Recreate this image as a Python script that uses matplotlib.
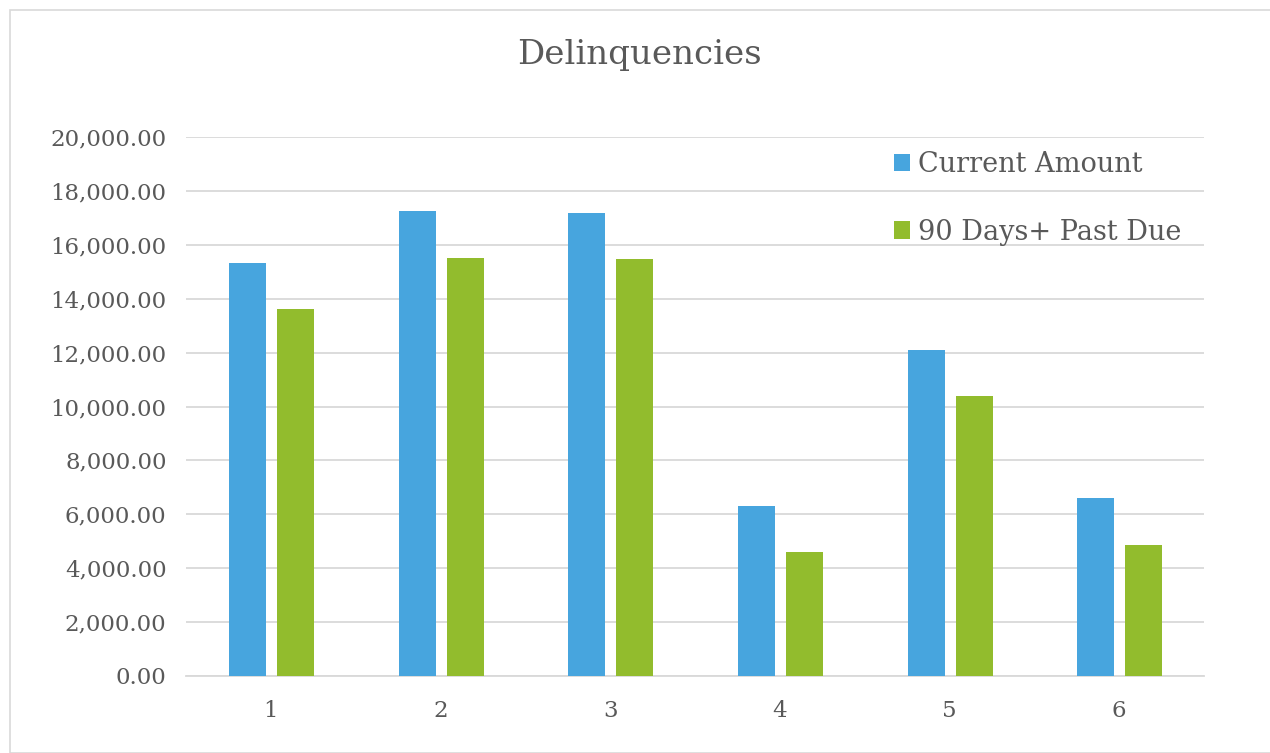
import numpy as np
import matplotlib as m
m.use('Agg')
import matplotlib.pyplot as plt
from matplotlib.patches import Rectangle
from matplotlib.ticker import FuncFormatter

categories = ['1', '2', '3', '4', '5', '6']
current_amount = [15330, 17250, 17180, 6320, 12100, 6600]
past_due_90 = [13600, 15520, 15470, 4600, 10390, 4860]
yticks = list(range(0, 20001, 2000))


def main():
  plt.rcParams['font.family'] = ['DejaVu Serif']
  txt = '#595959'
  grid = '#d9d9d9'
  blue = '#47a5de'
  green = '#92bc2d'

  fig = plt.figure(figsize=(12.7, 7.53), dpi=100)
  ax = fig.add_axes([186/1270, 1-676/753, (1204-186)/1270, (676-137)/753])

  x = np.arange(1, len(categories)+1)
  w = 0.218
  ax.bar(x-0.137, current_amount, w, color=blue, label='Current Amount', zorder=3)
  ax.bar(x+0.145, past_due_90, w, color=green, label='90 Days+ Past Due', zorder=3)

  ax.set_xlim(0.5, 6.5)
  ax.set_ylim(0, 20000)
  ax.set_yticks(yticks)
  ax.yaxis.set_major_formatter(FuncFormatter(lambda v, p: '{:,.2f}'.format(v)))
  ax.set_xticks(x)
  ax.set_xticklabels(categories)
  ax.tick_params(axis='both', length=0, labelsize=16.5, colors=txt)
  ax.tick_params(axis='y', pad=14)
  ax.tick_params(axis='x', pad=17)
  ax.grid(axis='y', color=grid, lw=1.3, zorder=0)
  for s in ['top', 'right', 'left']:
    ax.spines[s].set_visible(False)
  ax.spines['bottom'].set_color(grid)
  ax.spines['bottom'].set_linewidth(1.3)

  fig.text(639/1270, 1-55/753, 'Delinquencies', ha='center', va='center',
           fontsize=24.5, color=txt)

  leg = ax.legend(loc='upper left', bbox_to_anchor=(894/1270, 1-151/753),
                  bbox_transform=fig.transFigure, frameon=False, fontsize=19.5,
                  handlelength=0.6, handleheight=0.6, handletextpad=0.3,
                  labelspacing=1.5, borderpad=0, borderaxespad=0)
  for t in leg.get_texts():
    t.set_color(txt)

  fig.patches.append(Rectangle((10/1270, 0), 1, 1-10/753, transform=fig.transFigure,
                               fill=False, edgecolor='#d9d9d9', lw=1.2))

  plt.savefig('out.png', dpi=100)


if __name__ == '__main__':
  main()
